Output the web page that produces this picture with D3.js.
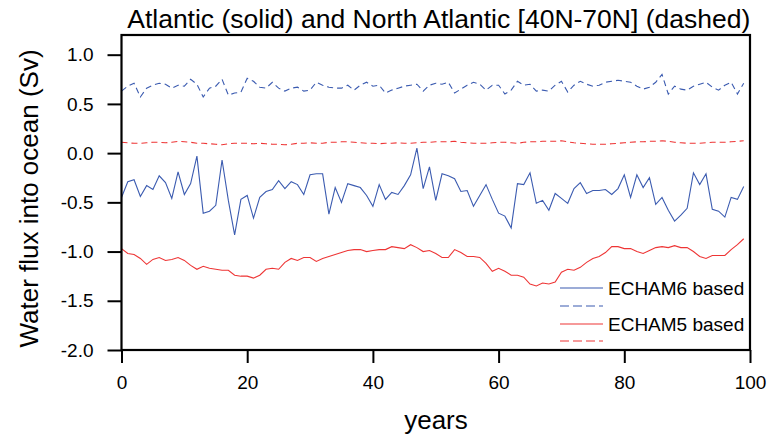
<!DOCTYPE html>
<html>
<head>
<meta charset="utf-8">
<script src="https://cdn.jsdelivr.net/npm/d3@7"></script>
<style>
  body { margin: 0; background: #fff; }
  text { font-family: "Liberation Sans", Arial, sans-serif; fill: #000; }
</style>
</head>
<body>
<div id="chart"></div>
<script>
// values, years 0..99
var years = d3.range(0, 100);

var echam6Atlantic = [
  -0.45, -0.29, -0.27, -0.44, -0.33, -0.37, -0.23, -0.30, -0.46, -0.19,
  -0.42, -0.31, -0.03, -0.61, -0.59, -0.53, -0.07, -0.48, -0.83, -0.47,
  -0.43, -0.66, -0.45, -0.39, -0.37, -0.28, -0.36, -0.29, -0.32, -0.42,
  -0.22, -0.21, -0.21, -0.62, -0.35, -0.50, -0.31, -0.33, -0.35, -0.43,
  -0.54, -0.32, -0.47, -0.40, -0.42, -0.33, -0.22, 0.05, -0.36, -0.14,
  -0.48, -0.21, -0.23, -0.26, -0.39, -0.38, -0.54, -0.43, -0.32, -0.47,
  -0.61, -0.64, -0.76, -0.31, -0.32, -0.20, -0.51, -0.48, -0.58, -0.41,
  -0.46, -0.51, -0.36, -0.30, -0.41, -0.38, -0.38, -0.37, -0.42, -0.36,
  -0.22, -0.45, -0.22, -0.35, -0.25, -0.52, -0.45, -0.58, -0.69, -0.63,
  -0.56, -0.20, -0.32, -0.21, -0.57, -0.59, -0.65, -0.45, -0.47, -0.34
];

var echam6NorthAtl = [
  0.63, 0.68, 0.71, 0.57, 0.66, 0.69, 0.71, 0.70, 0.66, 0.69,
  0.68, 0.75, 0.70, 0.57, 0.66, 0.68, 0.75, 0.59, 0.61, 0.62,
  0.76, 0.73, 0.67, 0.66, 0.72, 0.66, 0.63, 0.66, 0.67, 0.63,
  0.64, 0.72, 0.69, 0.67, 0.66, 0.66, 0.69, 0.64, 0.69, 0.72,
  0.68, 0.69, 0.61, 0.64, 0.66, 0.68, 0.69, 0.70, 0.63, 0.69,
  0.71, 0.70, 0.72, 0.61, 0.65, 0.69, 0.72, 0.70, 0.64, 0.69,
  0.69, 0.60, 0.64, 0.73, 0.69, 0.70, 0.63, 0.64, 0.63, 0.69,
  0.73, 0.62, 0.69, 0.73, 0.70, 0.68, 0.69, 0.72, 0.73, 0.74,
  0.73, 0.72, 0.68, 0.65, 0.67, 0.72, 0.80, 0.60, 0.68, 0.65,
  0.64, 0.68, 0.70, 0.72, 0.67, 0.64, 0.69, 0.72, 0.60, 0.71
];

var echam5Atlantic = [
  -0.97, -1.02, -1.03, -1.07, -1.13, -1.08, -1.06, -1.09, -1.08, -1.06,
  -1.09, -1.14, -1.18, -1.15, -1.17, -1.18, -1.19, -1.19, -1.24, -1.25,
  -1.25, -1.27, -1.24, -1.18, -1.17, -1.18, -1.11, -1.07, -1.09, -1.06,
  -1.06, -1.10, -1.07, -1.05, -1.03, -1.01, -0.99, -0.98, -0.98, -1.00,
  -0.99, -0.98, -0.98, -0.95, -0.96, -0.97, -0.93, -0.96, -1.00, -0.99,
  -1.02, -1.06, -1.06, -0.98, -1.01, -1.05, -1.05, -1.06, -1.12, -1.20,
  -1.17, -1.20, -1.24, -1.24, -1.26, -1.33, -1.35, -1.32, -1.33, -1.31,
  -1.21, -1.18, -1.19, -1.16, -1.11, -1.07, -1.05, -1.01, -0.95, -0.95,
  -0.97, -0.97, -1.00, -1.02, -0.99, -0.96, -0.95, -0.96, -0.94, -0.96,
  -0.96, -1.00, -1.05, -1.07, -1.04, -1.04, -1.04, -0.98, -0.93, -0.87
];

var echam5NorthAtl = [
  0.11, 0.105, 0.10, 0.10, 0.105, 0.11, 0.11, 0.105, 0.11, 0.12,
  0.115, 0.11, 0.10, 0.10, 0.095, 0.09, 0.085, 0.095, 0.10, 0.10,
  0.10, 0.095, 0.10, 0.095, 0.09, 0.09, 0.085, 0.09, 0.10, 0.10,
  0.105, 0.10, 0.10, 0.11, 0.11, 0.115, 0.115, 0.11, 0.105, 0.10,
  0.10, 0.095, 0.10, 0.10, 0.105, 0.10, 0.10, 0.105, 0.11, 0.11,
  0.115, 0.115, 0.115, 0.12, 0.11, 0.105, 0.10, 0.10, 0.10, 0.105,
  0.11, 0.11, 0.105, 0.10, 0.11, 0.115, 0.115, 0.12, 0.12, 0.12,
  0.125, 0.115, 0.105, 0.10, 0.095, 0.09, 0.09, 0.09, 0.095, 0.10,
  0.105, 0.11, 0.115, 0.115, 0.12, 0.12, 0.125, 0.12, 0.11, 0.105,
  0.10, 0.10, 0.10, 0.105, 0.11, 0.11, 0.11, 0.115, 0.12, 0.125
];

var xTicks = [0, 20, 40, 60, 80, 100];
var yTicks = [1.0, 0.5, 0.0, -0.5, -1.0, -1.5, -2.0];

var blue = "#3b5bb0", red = "#ee3535";

var W = 769, H = 438;
var plot = { left: 121.5, right: 750, top: 35, bottom: 350 };

var svg = d3.select("#chart").append("svg")
  .attr("width", W)
  .attr("height", H);

var x = d3.scaleLinear().domain([0, 100]).range([plot.left, plot.right]);
var y = d3.scaleLinear().domain([-2.0, 1.2]).range([plot.bottom, plot.top]);

// series
var line = d3.line()
  .x(function (d, i) { return x(years[i]); })
  .y(function (d) { return y(d); });

var series = [
  { v: echam6NorthAtl, c: blue, dash: "6,4" },
  { v: echam5NorthAtl, c: red, dash: "6,4" },
  { v: echam6Atlantic, c: blue, dash: null },
  { v: echam5Atlantic, c: red, dash: null }
];
series.forEach(function (s) {
  svg.append("path")
    .datum(s.v)
    .attr("fill", "none")
    .attr("stroke", s.c)
    .attr("stroke-width", 1.1)
    .attr("stroke-dasharray", s.dash)
    .attr("d", line);
});

// frame
svg.append("rect")
  .attr("x", plot.left).attr("y", plot.top)
  .attr("width", plot.right - plot.left).attr("height", plot.bottom - plot.top)
  .attr("fill", "none")
  .attr("stroke", "#000")
  .attr("stroke-width", 2.2);

// plain hyphen for negatives, like the original plot
var fmt1 = function (d) { return d.toFixed(1); };

// y axis
var yAxis = svg.append("g")
  .attr("transform", "translate(" + plot.left + ",0)")
  .call(d3.axisLeft(y).tickValues(yTicks).tickSize(14).tickPadding(14)
    .tickFormat(fmt1));
yAxis.select(".domain").remove();
yAxis.selectAll("line").attr("stroke-width", 2);
yAxis.selectAll("text")
  .attr("font-size", 19)
  .attr("font-family", "Liberation Sans, Arial, sans-serif");

// x axis
var xAxis = svg.append("g")
  .attr("transform", "translate(0," + plot.bottom + ")")
  .call(d3.axisBottom(x).tickValues(xTicks).tickSize(13).tickPadding(13)
    .tickFormat(d3.format("d")));
xAxis.select(".domain").remove();
xAxis.selectAll("line").attr("stroke-width", 2);
xAxis.selectAll("text")
  .attr("font-size", 19)
  .attr("font-family", "Liberation Sans, Arial, sans-serif");

// titles
svg.append("text")
  .attr("x", (plot.left + plot.right) / 2 + 3)
  .attr("y", 28)
  .attr("text-anchor", "middle")
  .attr("font-size", 26.5)
  .text("Atlantic (solid) and North Atlantic [40N-70N] (dashed)");

svg.append("text")
  .attr("x", 436)
  .attr("y", 429)
  .attr("text-anchor", "middle")
  .attr("font-size", 26)
  .text("years");

svg.append("text")
  .attr("transform", "translate(38," + ((plot.top + plot.bottom) / 2 + 6) + ") rotate(-90)")
  .attr("text-anchor", "middle")
  .attr("font-size", 26)
  .text("Water flux into ocean (Sv)");

// legend
var legend = [
  { label: "ECHAM6 based", c: blue, dash: null, y: 288 },
  { label: null, c: blue, dash: "9,4", y: 306 },
  { label: "ECHAM5 based", c: red, dash: null, y: 324 },
  { label: null, c: red, dash: "9,4", y: 341 }
];
var lg = svg.append("g");
legend.forEach(function (l) {
  lg.append("line")
    .attr("x1", 560).attr("x2", 603)
    .attr("y1", l.y).attr("y2", l.y)
    .attr("stroke", l.c)
    .attr("stroke-width", 1.1)
    .attr("stroke-dasharray", l.dash);
  if (l.label) {
    lg.append("text")
      .attr("x", 608)
      .attr("y", l.y + 7)
      .attr("font-size", 19)
      .text(l.label);
  }
});
</script>
</body>
</html>
